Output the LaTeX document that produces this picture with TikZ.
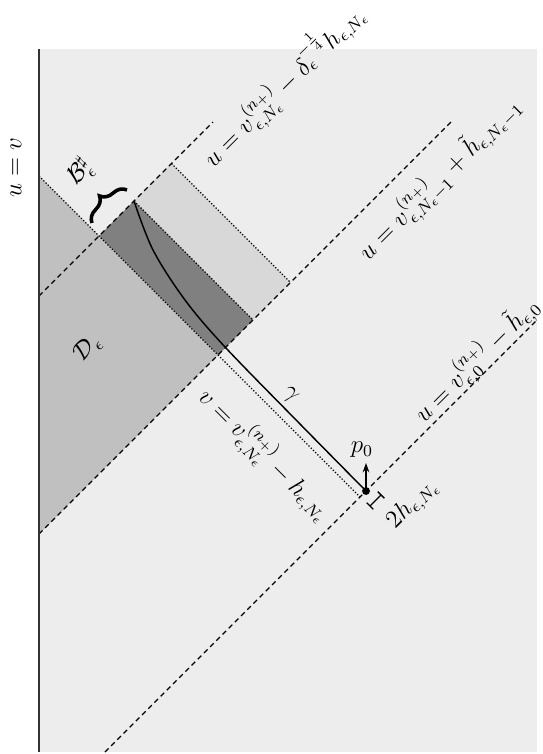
\documentclass[tikz,border=0pt]{standalone}
\usepackage{amsmath,amssymb}
\usetikzlibrary{arrows.meta,decorations.pathreplacing}
\definecolor{bggray}{RGB}{237,237,237}
\definecolor{dgray}{RGB}{192,192,192}
\definecolor{lgray}{RGB}{216,216,216}
\definecolor{kgray}{RGB}{128,128,128}
\begin{document}
\begin{tikzpicture}[x=0.48pt,y=-0.48pt,
  dashline/.style={line width=0.6pt, dash pattern=on 2.4pt off 1.8pt},
  dotline/.style={line width=0.6pt, dash pattern=on 0.6pt off 0.9pt},
  lbl/.style={inner sep=0pt, font=\large}]
\useasboundingbox (0,0) rectangle (542,754);
% frame
\coordinate (bgTL) at (39,49);
\coordinate (bgBL) at (39,752);
\coordinate (bgBR) at (537,752);
% region corners
\coordinate (dTop) at (39,176);
\coordinate (dBot) at (39,534);
\coordinate (cA) at (99,236);
\coordinate (cB) at (134,201);
\coordinate (cC) at (253,320);
\coordinate (cD) at (218,355);
\coordinate (cE) at (171.5,163.5);
\coordinate (cF) at (290.5,282.5);
% line ends
\coordinate (l1s) at (39,296);
\coordinate (l1e) at (213,122);
\coordinate (l2e) at (453,120);
\coordinate (l3s) at (105,752);
\coordinate (l3e) at (537,320);
\coordinate (m1e) at (360,497);
\coordinate (p0) at (366,491);
\coordinate (ptip) at (366,463);
\coordinate (br1) at (369.5,506.5);
\coordinate (br2) at (381.5,494.5);
\coordinate (bA) at (92,223);
\coordinate (bB) at (127,190);

\fill[bggray] (bgTL) rectangle (bgBR);
\fill[dgray] (dTop) -- (cD) -- (dBot) -- cycle;
\fill[lgray] (cB) -- (cE) -- (cF) -- (cC) -- cycle;
\fill[kgray] (cA) -- (cB) -- (cC) -- (cD) -- cycle;

\draw[dotline] (dTop) -- (m1e);
\draw[dotline] (cB) -- (cC);
\draw[dotline] (cE) -- (cF);
\draw[dashline] (l1s) -- (l1e);
\draw[dashline] (dBot) -- (l2e);
\draw[dashline] (l3s) -- (l3e);
\draw[line width=0.8pt, black!80] (bgTL) -- (bgBL);

\draw[line width=0.7pt] plot[smooth, tension=0.55] coordinates {(p0) (300,424) (225,347) (185,300) (153,250) (cB)};
\fill (p0) circle[radius=1.9pt];
\draw[-{Stealth[length=4.5pt,width=3.2pt]}, line width=0.7pt] (p0) -- (ptip);
\draw[{Bar[width=4.5pt]}-{Bar[width=4.5pt]}, line width=0.6pt] (br1) -- (br2);
\draw[decorate, decoration={brace, amplitude=7pt}, line width=1.7pt] (bA) -- (bB);

\node[lbl, rotate=90] (uv) at (16,168) {$u=v$};
\node[lbl, rotate=45] (t1) at (283,85) {$u=v^{(n_+)}_{\epsilon,N_\epsilon}-\delta_\epsilon^{-\frac14}h_{\epsilon,N_\epsilon}$};
\node[lbl, rotate=45] (t2) at (440,179) {$u=v^{(n_+)}_{\epsilon,N_\epsilon-1}+\tilde h_{\epsilon,N_\epsilon-1}$};
\node[lbl, rotate=45] (t3) at (477,360) {$u=v^{(n_+)}_{\epsilon,0}-\tilde h_{\epsilon,0}$};
\node[lbl, rotate=-45] (t4) at (265,455) {$v=v^{(n_+)}_{\epsilon,N_\epsilon}-h_{\epsilon,N_\epsilon}$};
\node[lbl, rotate=-45] (tg) at (290,395) {$\gamma$};
\node[lbl] (tp) at (362,450) {$p_0$};
\node[lbl, rotate=45] (th) at (413,504) {$2h_{\epsilon,N_\epsilon}$};
\node[lbl, rotate=45] (tD) at (88,348) {$\mathcal{D}_\epsilon$};
\node[lbl, rotate=45] (tB) at (80,172) {$\mathcal{B}^\sharp_\epsilon$};
\end{tikzpicture}
\end{document}
